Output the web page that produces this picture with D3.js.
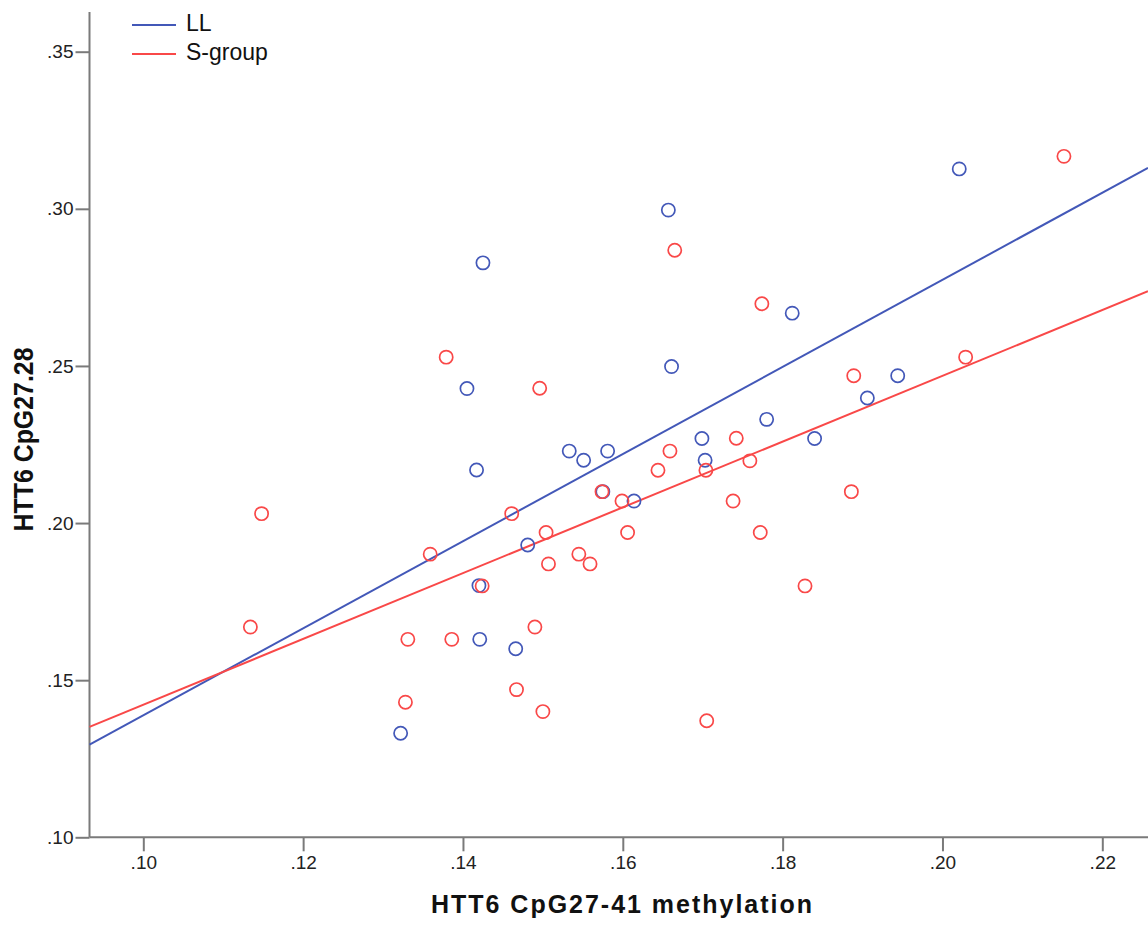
<!DOCTYPE html>
<html>
<head>
<meta charset="utf-8">
<script src="https://cdn.jsdelivr.net/npm/d3@7"></script>
<style>
  html, body { margin: 0; padding: 0; background: #fff; }
  svg { display: block; }
  text { font-family: "Liberation Sans", Arial, sans-serif; }
</style>
</head>
<body>
<svg id="chart" width="1148" height="930"></svg>
<script>
// ---- Data ----
const groups = ["LL", "S-group"];

const llX = [0.2021, 0.1657, 0.1425, 0.1812, 0.1405, 0.1661, 0.1944, 0.1906, 0.1780, 0.1840, 0.1699, 0.1703,
             0.1533, 0.1551, 0.1581, 0.1417, 0.1575, 0.1614, 0.1481, 0.1420, 0.1421, 0.1466, 0.1322];
const llY = [0.3127, 0.2996, 0.2828, 0.2668, 0.2428, 0.2498, 0.2469, 0.2398, 0.2330, 0.2269, 0.2269, 0.2200,
             0.2229, 0.2200, 0.2229, 0.2169, 0.2100, 0.2070, 0.1930, 0.1801, 0.1630, 0.1600, 0.1331];

const sX = [0.2152, 0.1665, 0.1774, 0.1379, 0.2029, 0.1496, 0.1889, 0.1742, 0.1659, 0.1759, 0.1704, 0.1644,
            0.1738, 0.1886, 0.1574, 0.1599, 0.1461, 0.1148, 0.1504, 0.1606, 0.1772, 0.1359, 0.1545, 0.1507,
            0.1559, 0.1424, 0.1828, 0.1490, 0.1134, 0.1331, 0.1386, 0.1467, 0.1328, 0.1500, 0.1705];
const sY = [0.3167, 0.2868, 0.2698, 0.2528, 0.2528, 0.2429, 0.2469, 0.2270, 0.2229, 0.2198, 0.2168, 0.2168,
            0.2070, 0.2100, 0.2100, 0.2070, 0.2030, 0.2030, 0.1970, 0.1970, 0.1970, 0.1901, 0.1901, 0.1870,
            0.1870, 0.1800, 0.1800, 0.1669, 0.1669, 0.1630, 0.1630, 0.1470, 0.1430, 0.1400, 0.1371];

// Fit lines: [intercept at x = 0.10, slope]
const llFit = [0.1388, 1.386];
const sFit  = [0.1422, 1.0466];

const xTicks = [0.10, 0.12, 0.14, 0.16, 0.18, 0.20, 0.22];
const yTicks = [0.10, 0.15, 0.20, 0.25, 0.30, 0.35];
const xTitle = "HTT6 CpG27-41 methylation";
const yTitle = "HTT6 CpG27.28";

// ---- Layout ----
const colors = { "LL": "#4358b8", "S-group": "#f94848" };
const axisColor = "#7a7a7a";
const svg = d3.select("#chart");

const x = d3.scaleLinear().domain([0.10, 0.22]).range([143.3, 1102.3]);
const y = d3.scaleLinear().domain([0.10, 0.35]).range([837.3, 51.7]);
const axisLeftX = 89.5, axisBottomY = 837.3, axisTopY = 12, axisRightX = 1148;
const xMin = x.invert(axisLeftX), xMax = x.invert(axisRightX);

const fmt = d => d3.format(".2f")(d).replace(/^0/, "");

// Axes
const xAxis = d3.axisBottom(x).tickValues(xTicks).tickFormat(fmt).tickSizeInner(14).tickSizeOuter(0).tickPadding(4);
const gx = svg.append("g").attr("transform", `translate(0,${axisBottomY})`).call(xAxis);
gx.select(".domain").remove();
gx.selectAll(".tick line").attr("stroke", axisColor).attr("stroke-width", 2);
gx.selectAll(".tick text").attr("font-size", 19).attr("fill", "#222").attr("font-family", "Liberation Sans, Arial, sans-serif");
svg.append("line").attr("x1", axisLeftX).attr("x2", axisRightX).attr("y1", axisBottomY).attr("y2", axisBottomY)
  .attr("stroke", axisColor).attr("stroke-width", 2);

const yAxis = d3.axisLeft(y).tickValues(yTicks).tickFormat(fmt).tickSizeInner(14).tickSizeOuter(0).tickPadding(2);
const gy = svg.append("g").attr("transform", `translate(${axisLeftX},0)`).call(yAxis);
gy.select(".domain").remove();
gy.selectAll(".tick line").attr("stroke", axisColor).attr("stroke-width", 2);
gy.selectAll(".tick text").attr("font-size", 19).attr("fill", "#222").attr("font-family", "Liberation Sans, Arial, sans-serif");
svg.append("line").attr("x1", axisLeftX).attr("x2", axisLeftX).attr("y1", axisTopY).attr("y2", axisBottomY)
  .attr("stroke", axisColor).attr("stroke-width", 2);

// Titles
svg.append("text").attr("x", 621.5).attr("y", 913).attr("text-anchor", "middle")
  .attr("font-size", 25).attr("font-weight", "bold").attr("fill", "#111")
  .attr("textLength", 381).attr("lengthAdjust", "spacing").text(xTitle);
svg.append("text").attr("transform", "translate(33,439.5) rotate(-90)").attr("text-anchor", "middle")
  .attr("font-size", 28).attr("font-weight", "bold").attr("fill", "#111")
  .attr("textLength", 184).attr("lengthAdjust", "spacingAndGlyphs").text(yTitle);

// Fit lines and points
const series = [
  { name: "LL", xs: llX, ys: llY, fit: llFit },
  { name: "S-group", xs: sX, ys: sY, fit: sFit }
];
const plot = svg.append("g");
series.forEach(s => {
  const f = v => s.fit[0] + s.fit[1] * (v - 0.10);
  plot.append("line")
    .attr("x1", x(xMin)).attr("y1", y(f(xMin)))
    .attr("x2", x(xMax)).attr("y2", y(f(xMax)))
    .attr("stroke", colors[s.name]).attr("stroke-width", 2);
});
series.forEach(s => {
  plot.append("g").selectAll("circle").data(s.xs.map((v, i) => [v, s.ys[i]])).join("circle")
    .attr("cx", d => x(d[0])).attr("cy", d => y(d[1])).attr("r", 6.6)
    .attr("fill", "none").attr("stroke", colors[s.name]).attr("stroke-width", 1.7);
});

// Legend
const legend = svg.append("g");
groups.forEach((g, i) => {
  const ly = 25 + i * 29;
  legend.append("line").attr("x1", 132).attr("x2", 176).attr("y1", ly).attr("y2", ly)
    .attr("stroke", colors[g]).attr("stroke-width", 2);
  legend.append("text").attr("x", 186).attr("y", ly + 6).attr("font-size", 23)
    .attr("fill", "#111").text(g);
});
</script>
</body>
</html>
